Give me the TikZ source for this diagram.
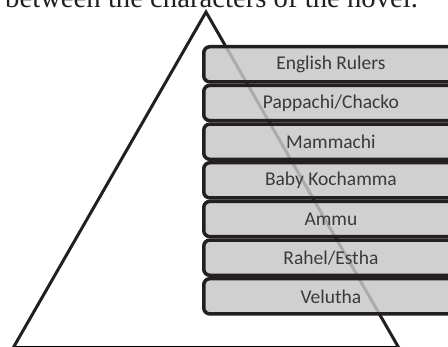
\documentclass[tikz,border=0pt]{standalone}
\usepackage{fontspec}
\setmainfont{Liberation Serif}
\newfontfamily\boxfont{Carlito}
\definecolor{ink}{HTML}{231F20}
\definecolor{boxfill}{RGB}{199,199,200}
\definecolor{boxtext}{HTML}{3A3A3A}
\definecolor{baseline}{RGB}{200,200,200}
\tikzset{
  level/.style={draw=ink, line width=3.5pt, fill=boxfill, fill opacity=0.84,
    text opacity=1, rounded corners=6pt, minimum width=254.25pt,
    minimum height=35.17pt, inner sep=0pt, text=boxtext,
    font=\boxfont\fontsize{19.5}{22}\selectfont},
  leg/.style={draw=ink, line width=3pt, line join=miter}
}
\begin{document}
\begin{tikzpicture}[x=1pt,y=-1pt]
\useasboundingbox (0,0) rectangle (448,347);
\clip (0,0) rectangle (448,347);
\node[anchor=base west, inner sep=0pt, text=ink, font=\fontsize{28.7}{32}\selectfont] (caption) at (5,7.3) {between the characters of the novel.};
\coordinate (apex) at (206,12);
\coordinate (bl) at (6.2,360);
\coordinate (br) at (405.8,360);
\coordinate (basel) at (14.3,346);
\coordinate (baser) at (397.7,346);
\draw[baseline, line width=0.9pt] (basel) -- (baser);
\draw[leg] (bl) -- (apex) -- (br);
\node[level] (l1) at (330.9,64.33) {English Rulers};
\node[level] (l2) at (330.9,103.00) {Pappachi/Chacko};
\node[level] (l3) at (330.9,141.67) {Mammachi};
\node[level] (l4) at (330.9,180.33) {Baby Kochamma};
\node[level] (l5) at (330.9,219.00) {Ammu};
\node[level] (l6) at (330.9,257.67) {Rahel/Estha};
\node[level] (l7) at (330.9,296.33) {Velutha};
\end{tikzpicture}
\end{document}
